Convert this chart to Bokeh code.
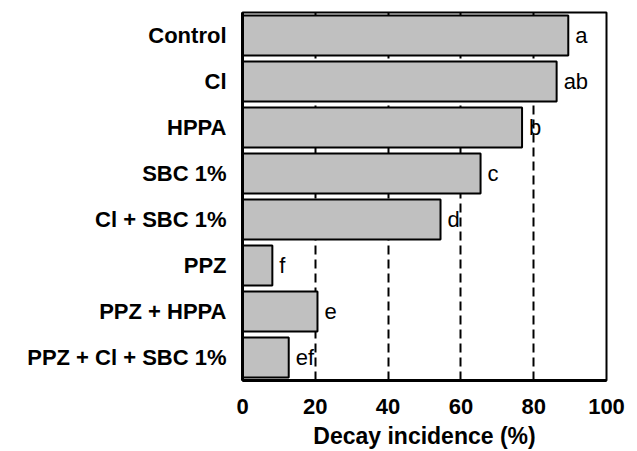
from bokeh.plotting import figure
from bokeh.models import FactorRange, Range1d, FixedTicker, ColumnDataSource, LabelSet
from bokeh.core.properties import value
from bokeh.embed import file_html
from bokeh.resources import INLINE

treatments = ["Control", "Cl", "HPPA", "SBC 1%", "Cl + SBC 1%", "PPZ",
              "PPZ + HPPA", "PPZ + Cl + SBC 1%"]
decay = [89.5, 86.3, 76.8, 65.4, 54.4, 8.2, 20.6, 12.7]
letters = ["a", "ab", "b", "c", "d", "f", "e", "ef"]
x_ticks = [0, 20, 40, 60, 80, 100]
grid_ticks = [20, 40, 60, 80]

FONT = "Liberation Sans"

src = ColumnDataSource(dict(t=treatments, v=decay, lab=letters))

p = figure(width=637, height=451, output_backend="svg", toolbar_location=None,
           y_range=FactorRange(factors=list(reversed(treatments))),
           x_range=Range1d(0, 100),
           min_border_left=242, min_border_right=31, min_border_top=12,
           min_border_bottom=63)

p.hbar(y="t", right="v", left=0, height=0.87, source=src,
       fill_color="#c0c0c0", line_color="black", line_width=2)

labels = LabelSet(x="v", y="t", text="lab", source=src, x_offset=7,
                  text_baseline="middle", text_align="left",
                  text_font=value(FONT), text_font_size="22px",
                  text_color="black")
p.add_layout(labels)

p.outline_line_color = "black"
p.outline_line_width = 2
p.outline_line_alpha = 1

p.ygrid.grid_line_color = None
p.xgrid.ticker = FixedTicker(ticks=grid_ticks)
p.xgrid.grid_line_color = "black"
p.xgrid.grid_line_dash = "9 5"
p.xgrid.grid_line_width = 2

p.xaxis.ticker = FixedTicker(ticks=x_ticks)
p.xaxis.axis_label = "Decay incidence (%)"
p.xaxis.axis_label_text_font = FONT
p.xaxis.axis_label_text_font_style = "bold"
p.xaxis.axis_label_text_font_size = "23px"
p.xaxis.axis_label_text_color = "black"
p.xaxis.axis_label_standoff = 6
p.xaxis.major_label_text_font = FONT
p.xaxis.major_label_text_font_style = "bold"
p.xaxis.major_label_text_font_size = "22px"
p.xaxis.major_label_text_color = "black"
p.xaxis.major_label_standoff = 12
p.xaxis.major_tick_line_color = None
p.xaxis.minor_tick_line_color = None
p.xaxis.axis_line_width = 3
p.xaxis.axis_line_color = "black"

p.yaxis.major_label_text_font = FONT
p.yaxis.major_label_text_font_style = "bold"
p.yaxis.major_label_text_font_size = "22px"
p.yaxis.major_label_text_color = "black"
p.yaxis.major_label_standoff = 10
p.yaxis.major_tick_line_color = None
p.yaxis.axis_line_width = 3
p.yaxis.axis_line_color = "black"

open("out.html", "w").write(file_html(p, INLINE))
